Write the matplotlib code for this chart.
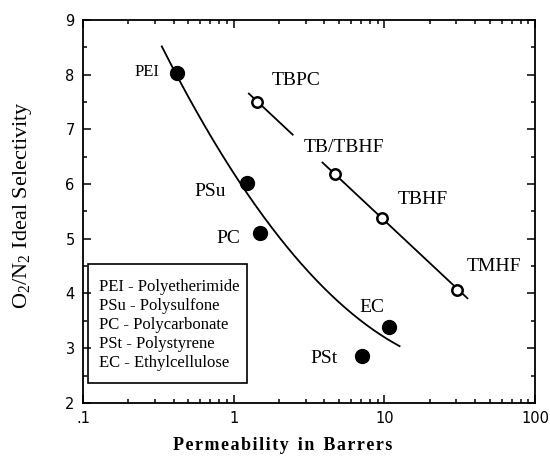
import numpy as np
import matplotlib
matplotlib.use("Agg")
import matplotlib.pyplot as plt
from matplotlib.ticker import FixedLocator, FixedFormatter, MultipleLocator
from matplotlib.patches import Rectangle

serif = "Liberation Serif"
sans = "DejaVu Sans"
plt.rcParams["mathtext.fontset"] = "custom"
plt.rcParams["mathtext.rm"] = serif
plt.rcParams["mathtext.it"] = serif

# Conventional glassy polymers (filled circles)
poly_names = ["PEI", "PSu", "PC", "PSt", "EC"]
poly_perm = [0.42, 1.22, 1.49, 7.15, 10.8]
poly_sel = [8.03, 6.02, 5.11, 2.86, 3.39]

# Tetrabromo / hexafluoro polymers (open circles)
new_names = ["TBPC", "TB/TBHF", "TBHF", "TMHF"]
new_perm = [1.42, 4.73, 9.7, 30.4]
new_sel = [7.50, 6.19, 5.38, 4.07]

# Hand-drawn trend curve through the conventional polymers
curve_perm = [0.333, 0.42, 0.596, 0.726, 0.984, 1.13, 1.49, 1.87, 2.61, 3.09, 5.19, 8.59, 12.6]
curve_sel = [8.58, 8.03, 7.05, 6.81, 6.20, 6.02, 5.47, 5.11, 4.65, 4.49, 3.83, 3.33, 2.99]

# Ranges covered by the two straight trend segments of the new polymers
seg1_range = [1.26, 2.46]
seg2_range = [3.88, 35.5]

legend_lines = ["PEI - Polyetherimide", "PSu - Polysulfone", "PC - Polycarbonate",
                "PSt - Polystyrene", "EC - Ethylcellulose"]

x_ticks = [0.1, 1, 10, 100]
x_ticklabels = [".1", "1", "10", "100"]
y_ticks = [2, 3, 4, 5, 6, 7, 8, 9]

fig = plt.figure(figsize=(5.5, 4.61), dpi=100)
ax = fig.add_axes([0.151, 0.126, 0.822, 0.831])

ax.set_xscale("log")
ax.set_xlim(0.1, 100)
ax.set_ylim(2, 9)

# Smooth trend curve (quadratic in log P)
lc = np.log10(curve_perm)
coef = np.polyfit(lc, curve_sel, 2)
xs = np.linspace(lc[0], lc[-1], 200)
ax.plot(10 ** xs, np.polyval(coef, xs), color="black", lw=1.3)

# Straight trend line through the open-circle polymers
lnew = np.log10(new_perm)
c2 = np.polyfit(lnew, new_sel, 1)
for rng in (seg1_range, seg2_range):
    lx = np.log10(rng)
    ax.plot(10 ** lx, np.polyval(c2, lx), color="black", lw=1.3)

ax.plot(poly_perm, poly_sel, "o", color="black", ms=10, zorder=3)
ax.plot(new_perm, new_sel, "o", mfc="white", mec="black", mew=1.8, ms=7.5, zorder=3)

# Point labels
lab_kw = dict(family=serif, color="black", ha="center", va="center")
ax.text(0.265, 8.05, "PEI", fontsize=12, **lab_kw)
ax.text(0.693, 5.86, "PSu", fontsize=14, **lab_kw)
ax.text(0.927, 5.0, "PC", fontsize=14, **lab_kw)
ax.text(4.0, 2.82, "PSt", fontsize=14, **lab_kw)
ax.text(8.2, 3.75, "EC", fontsize=14, **lab_kw)
ax.text(2.61, 7.90, "TBPC", fontsize=14, **lab_kw)
ax.text(5.35, 6.66, "TB/TBHF", fontsize=14, **lab_kw)
ax.text(17.9, 5.71, "TBHF", fontsize=14, **lab_kw)
ax.text(53.5, 4.49, "TMHF", fontsize=14, **lab_kw)

# Abbreviation key box
box = Rectangle((0.011, 0.052), 0.352, 0.311, transform=ax.transAxes,
                fill=False, ec="black", lw=1.2, zorder=4)
ax.add_patch(box)
for i, line in enumerate(legend_lines):
    ax.text(0.035, 0.303 - i * 0.0497, line, transform=ax.transAxes,
            ha="left", va="center", fontsize=12, family=serif)

# Ticks
ax.xaxis.set_major_locator(FixedLocator(x_ticks))
ax.xaxis.set_major_formatter(FixedFormatter(x_ticklabels))
ax.yaxis.set_major_locator(FixedLocator(y_ticks))
ax.yaxis.set_minor_locator(MultipleLocator(0.5))
ax.tick_params(which="both", direction="in", top=True, right=True, width=1.1)
ax.tick_params(which="major", length=6, labelsize=10.5, pad=6)
ax.tick_params(which="minor", length=3)
for t in ax.get_xticklabels() + ax.get_yticklabels():
    t.set_family(sans)
for s in ax.spines.values():
    s.set_linewidth(1.3)

# Axis titles
hs = "\u200a"
xlabel = hs.join("Permeability") + "  " + hs.join("in") + "  " + hs.join("Barrers")
fig.text(283 / 550, 1 - 445 / 461, xlabel, family=[serif, "DejaVu Sans"],
         fontweight="bold", fontsize=13, ha="center", va="center")
fig.text(23 / 550, 1 - 205 / 461, r"O$_2$/N$_2$ Ideal Selectivity", family=serif,
         fontsize=16, rotation=90, ha="center", va="center")

fig.savefig("out.png", dpi=100)
